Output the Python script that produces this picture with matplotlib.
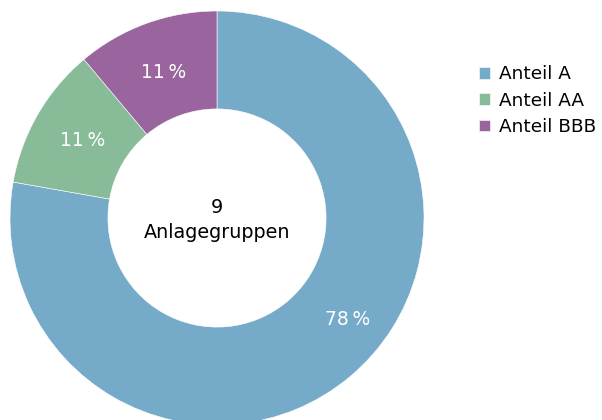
import numpy as np
import matplotlib
matplotlib.use("Agg")
import matplotlib.pyplot as plt

labels = ["Anteil A", "Anteil AA", "Anteil BBB"]
counts = [7, 1, 1]
colors = ["#75AAC9", "#88BB98", "#9A649E"]
center_text = "9\nAnlagegruppen"

plt.rcParams["font.family"] = ["DejaVu Sans"]

fig = plt.figure(figsize=(6.02, 4.20), dpi=100)
ax = fig.add_axes([10 / 602, -5 / 420, 414 / 602, 414 / 420])

wedges, texts, autotexts = ax.pie(
    counts,
    colors=colors,
    startangle=90,
    counterclock=False,
    radius=1.0,
    wedgeprops=dict(width=0.473, edgecolor="white", linewidth=0.4),
    autopct=lambda p: f"{p:.0f}\u2009%",
    pctdistance=0.75,
    textprops=dict(color="white", fontsize=13.5),
)

# the big slice's label sits lower right, not at the slice's middle
ang = np.deg2rad(90 - 128)
autotexts[0].set_position((0.8 * np.cos(ang), 0.8 * np.sin(ang)))

ax.text(0, -0.01, center_text, ha="center", va="center", fontsize=13.8,
        color="black", linespacing=1.35)

ax.set_xlim(-1, 1)
ax.set_ylim(-1, 1)
ax.set_axis_off()

fig.legend(
    wedges, labels,
    loc="upper left",
    bbox_to_anchor=(472 / 602, 1 - 58 / 420),
    frameon=False,
    fontsize=13.3,
    handlelength=0.6,
    handleheight=0.6,
    handletextpad=0.45,
    labelspacing=0.45,
    borderaxespad=0,
)

fig.savefig("out.png", dpi=100)
